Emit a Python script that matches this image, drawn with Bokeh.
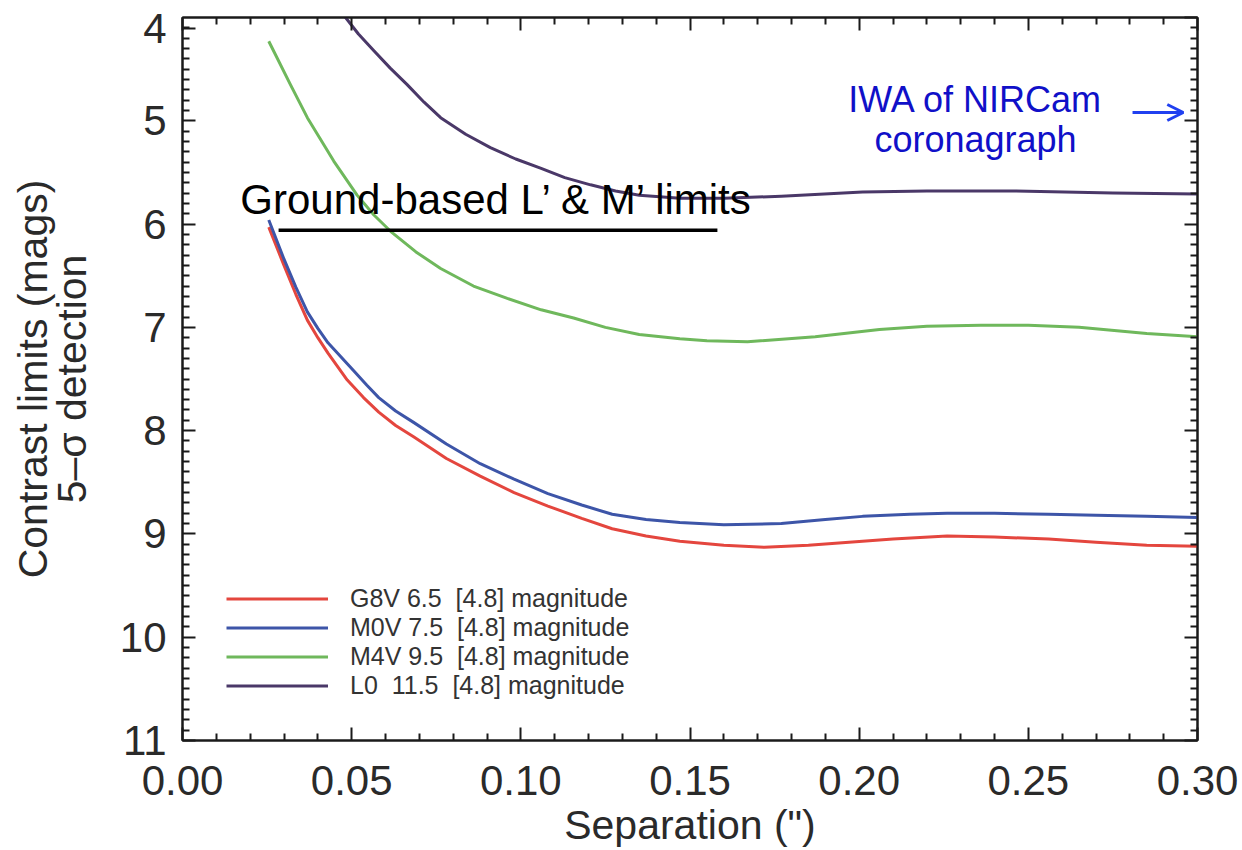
from bokeh.plotting import figure
from bokeh.models import (Range1d, LinearAxis, FixedTicker, NumeralTickFormatter,
                          Legend, LegendItem, Label, Arrow, OpenHead)
from bokeh.embed import file_html
from bokeh.resources import INLINE

# ---------------- data ----------------
g8v_sep = [0.0255, 0.030, 0.0335, 0.0369, 0.040, 0.0430, 0.0487, 0.0535, 0.058, 0.063, 0.0683,
           0.078, 0.088, 0.098, 0.108, 0.118, 0.127, 0.137, 0.147, 0.160, 0.172, 0.185, 0.197,
           0.210, 0.226, 0.240, 0.256, 0.270, 0.285, 0.300]
g8v_mag = [6.03, 6.40, 6.68, 6.93, 7.10, 7.25, 7.51, 7.68, 7.82, 7.95, 8.06,
           8.27, 8.44, 8.60, 8.73, 8.85, 8.95, 9.02, 9.07, 9.11, 9.13, 9.11, 9.08,
           9.05, 9.02, 9.03, 9.05, 9.08, 9.11, 9.12]

m0v_sep = [0.0255, 0.030, 0.0335, 0.0369, 0.040, 0.0430, 0.0506, 0.0545, 0.058, 0.063, 0.0683,
           0.078, 0.088, 0.098, 0.108, 0.118, 0.127, 0.137, 0.147, 0.160, 0.177, 0.190, 0.201,
           0.215, 0.226, 0.240, 0.256, 0.270, 0.285, 0.300]
m0v_mag = [5.96, 6.34, 6.61, 6.85, 7.01, 7.15, 7.42, 7.56, 7.68, 7.81, 7.92,
           8.13, 8.32, 8.47, 8.61, 8.72, 8.81, 8.86, 8.89, 8.91, 8.90, 8.86, 8.83,
           8.81, 8.80, 8.80, 8.81, 8.82, 8.83, 8.84]

m4v_sep = [0.0255, 0.0319, 0.0369, 0.0447, 0.0516, 0.0565, 0.0615, 0.069, 0.0763, 0.086, 0.096,
           0.106, 0.1156, 0.125, 0.135, 0.147, 0.155, 0.167, 0.187, 0.206, 0.220, 0.236, 0.250,
           0.265, 0.285, 0.300]
m4v_mag = [4.23, 4.65, 4.97, 5.39, 5.72, 5.91, 6.07, 6.27, 6.43, 6.60, 6.72,
           6.83, 6.91, 7.00, 7.07, 7.11, 7.13, 7.14, 7.09, 7.02, 6.99, 6.98, 6.98,
           7.00, 7.06, 7.09]

l0_sep = [0.0460, 0.0482, 0.0520, 0.0565, 0.0614, 0.0664, 0.0714, 0.0763, 0.0837, 0.091, 0.0985,
          0.106, 0.113, 0.1206, 0.128, 0.135, 0.147, 0.160, 0.177, 0.201, 0.220, 0.246, 0.275, 0.300]
l0_mag = [3.90, 4.00, 4.16, 4.32, 4.49, 4.65, 4.82, 4.97, 5.13, 5.26, 5.37,
          5.46, 5.55, 5.62, 5.68, 5.72, 5.75, 5.75, 5.73, 5.69, 5.68, 5.68, 5.70, 5.71]

series_labels = ["G8V 6.5\u00a0 [4.8] magnitude",
                 "M0V 7.5\u00a0 [4.8] magnitude",
                 "M4V 9.5\u00a0 [4.8] magnitude",
                 "L0\u00a0 11.5\u00a0 [4.8] magnitude"]
series_colors = ["#e4463e", "#3d55a8", "#6fb85c", "#4a3868"]

x_ticks = [0.0, 0.05, 0.10, 0.15, 0.20, 0.25, 0.30]
x_minor = [0.01, 0.02, 0.03, 0.04, 0.06, 0.07, 0.08, 0.09, 0.11, 0.12, 0.13, 0.14,
           0.16, 0.17, 0.18, 0.19, 0.21, 0.22, 0.23, 0.24, 0.26, 0.27, 0.28, 0.29]
y_ticks = [4, 5, 6, 7, 8, 9, 10, 11]
y_tick_labels = ["4", "5", "6", "7", "8", "9", "10", "11"]
y_minor_step = 0.1
top_label_shift = 0.11   # the "4" label sits just below the top edge, as in the reference

x_title = 'Separation (")'
y_title = "Contrast limits (mags)\n5\u2013\u03c3 detection"
x_lim = (0.0, 0.30)
y_lim = (11.0, 4.0)

ground_text = "Ground-based L\u2019 & M\u2019 limits"
ground_pos = (0.0171, 5.76)
ground_line = (0.0284, 0.1581, 6.06)
iwa_lines = ["IWA of NIRCam", "coronagraph"]
iwa_pos = (0.2344, 4.79, 5.18)
iwa_arrow = (0.2808, 0.2958, 4.92)

FONT = "Liberation Sans"

# ---------------- figure ----------------
p = figure(width=1242, height=850, x_range=Range1d(*x_lim), y_range=Range1d(*y_lim),
           output_backend="svg", toolbar_location=None,
           min_border_left=182, min_border_right=45, min_border_top=17, min_border_bottom=108)
p.background_fill_color = "white"
p.border_fill_color = "white"
p.outline_line_color = "#1a1a1a"
p.outline_line_width = 2
p.xgrid.visible = False
p.ygrid.visible = False

y_minor = [round(4 + i * y_minor_step, 2) for i in range(71) if i % 10 != 0]

def style_axis(ax, labels=True):
    ax.axis_line_color = "#1a1a1a"
    ax.axis_line_width = 2
    ax.major_tick_in = 13
    ax.major_tick_out = 0
    ax.minor_tick_in = 7
    ax.minor_tick_out = 0
    ax.major_tick_line_color = "#1a1a1a"
    ax.minor_tick_line_color = "#1a1a1a"
    ax.major_tick_line_width = 2
    ax.minor_tick_line_width = 2
    ax.major_label_text_font = FONT
    ax.major_label_text_color = "#2a2a2a"
    ax.major_label_text_font_size = "42px"
    ax.axis_label_text_font = FONT
    ax.axis_label_text_font_style = "normal"
    ax.axis_label_text_color = "#2a2a2a"
    ax.axis_label_text_font_size = "41px"
    if not labels:
        ax.major_label_text_font_size = "1px"
        ax.major_label_text_color = None
        ax.major_label_text_alpha = 0
        ax.major_label_standoff = 0

xa = p.xaxis[0]
xa.ticker = FixedTicker(ticks=x_ticks, minor_ticks=x_minor)
xa.formatter = NumeralTickFormatter(format="0.00")
style_axis(xa)
xa.major_label_standoff = 25
xa.axis_label = x_title
xa.axis_label_standoff = 4

# left axis: first label drawn slightly below the top edge (as in the reference)
left_ticks = [y_ticks[0] + top_label_shift] + y_ticks[1:]
left_minor = [m for m in y_minor if abs(m - left_ticks[0]) > 1e-6]
ya = p.yaxis[0]
ya.ticker = FixedTicker(ticks=left_ticks, minor_ticks=left_minor)
style_axis(ya)
ya.major_label_standoff = 16
ya.major_label_overrides = {t: lab for t, lab in zip(left_ticks, y_tick_labels)}
ya.axis_label = y_title
ya.axis_label_standoff = 22
ya.axis_label_text_line_height = 0.85

top = LinearAxis(ticker=FixedTicker(ticks=x_ticks, minor_ticks=x_minor))
style_axis(top, labels=False)
p.add_layout(top, "above")
right = LinearAxis(ticker=FixedTicker(ticks=y_ticks, minor_ticks=y_minor))
style_axis(right, labels=False)
p.add_layout(right, "right")

# ---------------- curves ----------------
all_sep = [g8v_sep, m0v_sep, m4v_sep, l0_sep]
all_mag = [g8v_mag, m0v_mag, m4v_mag, l0_mag]
items = []
for sep, mag, col, lab in zip(all_sep, all_mag, series_colors, series_labels):
    r = p.line(sep, mag, line_color=col, line_width=3, line_join="round")
    items.append(LegendItem(label=lab, renderers=[r]))

legend = Legend(items=items, location=(44, 40), background_fill_alpha=0,
                border_line_alpha=0, padding=0, margin=0, spacing=0,
                glyph_width=102, glyph_height=27, label_height=27, label_standoff=22,
                label_text_font=FONT, label_text_font_size="25px", label_text_color="#333333")
p.add_layout(legend, "center")

# ---------------- annotations ----------------
p.add_layout(Label(x=ground_pos[0], y=ground_pos[1], text=ground_text, text_font=FONT,
                   text_font_size="42px", text_color="black", text_baseline="alphabetic",
                   text_align="left"))
p.segment(x0=[ground_line[0]], y0=[ground_line[2]], x1=[ground_line[1]], y1=[ground_line[2]],
          line_color="black", line_width=3.5)

p.add_layout(Label(x=iwa_pos[0], y=iwa_pos[1], text=iwa_lines[0], text_font=FONT,
                   text_font_size="36px", text_color="#1010c8", text_baseline="alphabetic",
                   text_align="center"))
p.add_layout(Label(x=iwa_pos[0], y=iwa_pos[2], text=iwa_lines[1], text_font=FONT,
                   text_font_size="36px", text_color="#1010c8", text_baseline="alphabetic",
                   text_align="center"))
p.add_layout(Arrow(x_start=iwa_arrow[0], y_start=iwa_arrow[2], x_end=iwa_arrow[1], y_end=iwa_arrow[2],
                   line_color="#2040f0", line_width=3,
                   end=OpenHead(size=16, line_color="#2040f0", line_width=3)))

open("out.html", "w").write(file_html(p, INLINE))
